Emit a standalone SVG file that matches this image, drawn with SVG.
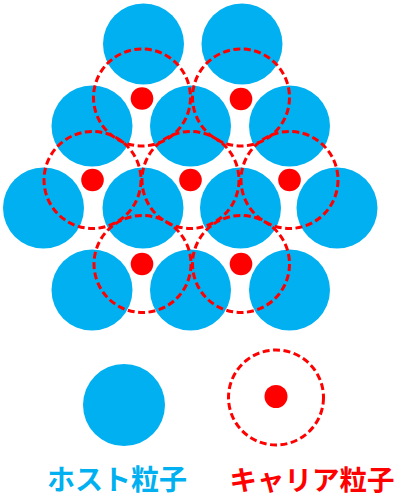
<svg xmlns="http://www.w3.org/2000/svg" width="400" height="503" viewBox="0 0 400 503">
<style>
.host{fill:#00B0F0}
.ring{fill:none;stroke:#FF0000;stroke-width:3;stroke-dasharray:7 3.5}
.dot{fill:#FF0000}
.lbl{font-family:"Noto Sans CJK JP","Noto Sans CJK SC",sans-serif;font-weight:bold;font-size:28px;text-anchor:middle}
</style>
<rect width="400" height="503" fill="#FFFFFF"/>
<g id="hosts">
<circle id="h1" class="host" cx="143.5" cy="44" r="40.5"/>
<circle id="h2" class="host" cx="242" cy="44" r="40.5"/>
<circle id="h3" class="host" cx="92" cy="126" r="40.5"/>
<circle id="h4" class="host" cx="190.5" cy="126" r="40.5"/>
<circle id="h5" class="host" cx="289.5" cy="126" r="40.5"/>
<circle id="h6" class="host" cx="43.5" cy="208" r="40.5"/>
<circle id="h7" class="host" cx="143" cy="208" r="40.5"/>
<circle id="h8" class="host" cx="240.5" cy="208" r="40.5"/>
<circle id="h9" class="host" cx="337" cy="208" r="40.5"/>
<circle id="h10" class="host" cx="92" cy="290" r="40.5"/>
<circle id="h11" class="host" cx="190.5" cy="290" r="40.5"/>
<circle id="h12" class="host" cx="289.5" cy="290" r="40.5"/>
</g>
<g id="carriers">
<g id="c1"><circle class="ring" cx="142" cy="97.5" r="48.5"/><circle class="dot" cx="142" cy="98.5" r="11.3"/></g>
<g id="c2"><circle class="ring" cx="241" cy="97.5" r="48.5"/><circle class="dot" cx="241" cy="99" r="11.3"/></g>
<g id="c3"><circle class="ring" cx="92.5" cy="180" r="48.5"/><circle class="dot" cx="92.5" cy="180" r="11.3"/></g>
<g id="c4"><circle class="ring" cx="190.5" cy="180" r="48.5"/><circle class="dot" cx="190.5" cy="180" r="11.3"/></g>
<g id="c5"><circle class="ring" cx="289.5" cy="180" r="48.5"/><circle class="dot" cx="289.5" cy="180" r="11.3"/></g>
<g id="c6"><circle class="ring" cx="142.5" cy="264" r="48.5"/><circle class="dot" cx="142" cy="264" r="11.3"/></g>
<g id="c7"><circle class="ring" cx="241" cy="264" r="48.5"/><circle class="dot" cx="241" cy="264" r="11.3"/></g>
</g>
<g id="legend-host">
<circle class="host" cx="124" cy="405" r="41"/>
<text class="lbl" x="117" y="490" fill="#00B0F0">ホスト粒子</text>
</g>
<g id="legend-carrier">
<circle class="ring" cx="276" cy="397.5" r="47.5"/>
<circle class="dot" cx="276" cy="396.5" r="11.5"/>
<text class="lbl" x="312" y="490" fill="#FF0000" style="font-size:27.5px">キャリア粒子</text>
</g>
</svg>
